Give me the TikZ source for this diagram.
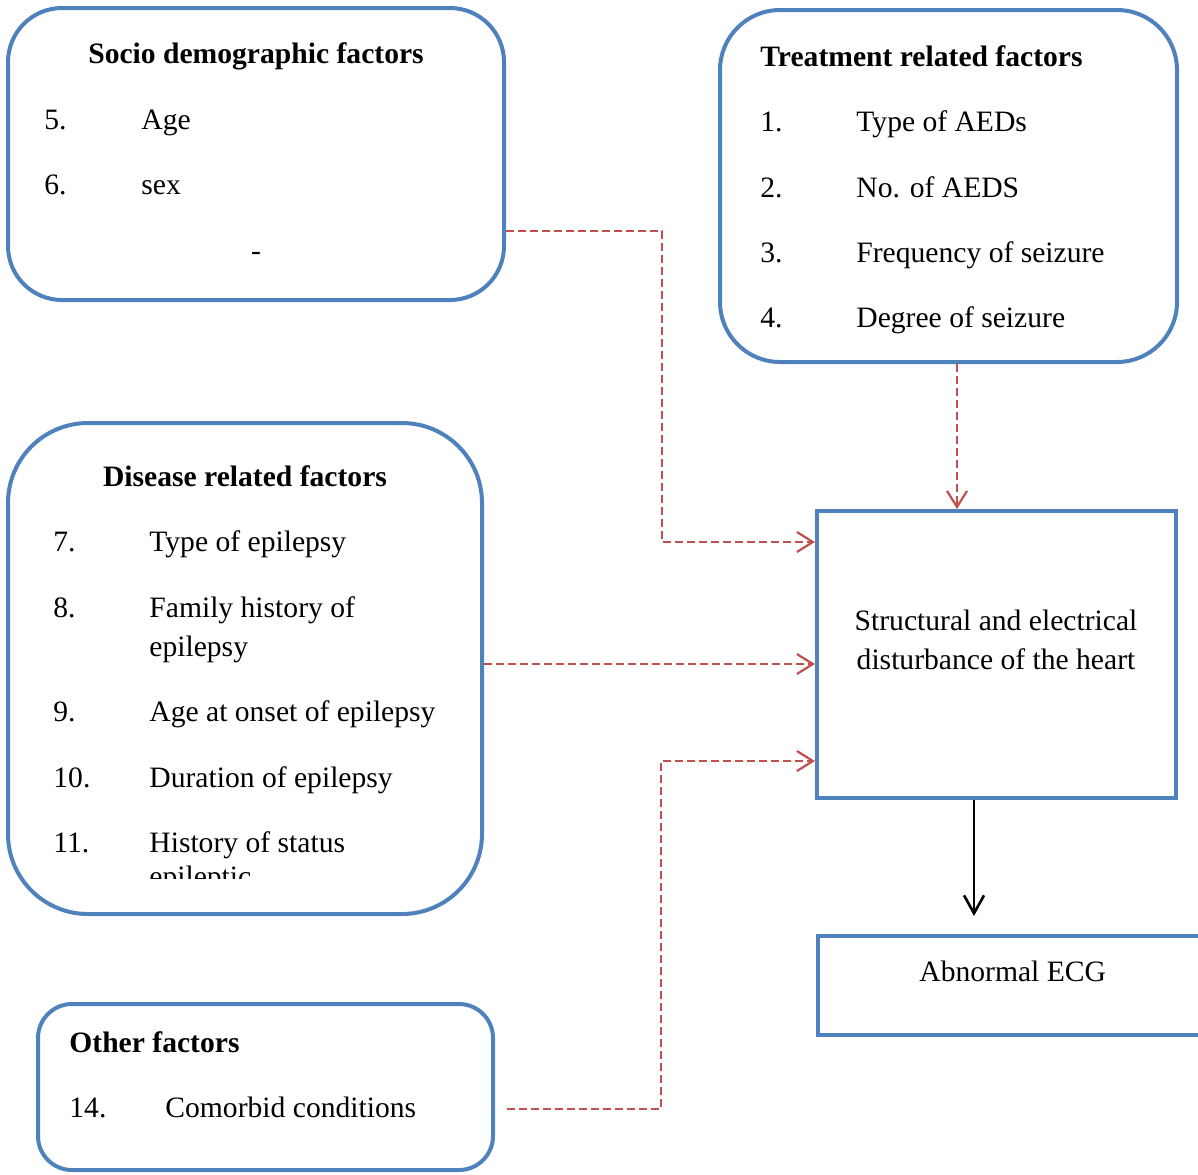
\documentclass[tikz,border=0pt]{standalone}
\usepackage{fontspec}
\setmainfont{Liberation Serif}
\usetikzlibrary{arrows.meta}
\definecolor{boxblue}{RGB}{79,129,189}
\definecolor{dashred}{RGB}{192,80,77}
\begin{document}
\begin{tikzpicture}[x=0.5pt,y=-0.5pt,
  every node/.style={font=\fontsize{14.8}{17}\selectfont},
  rbox/.style={draw=boxblue, line width=2pt, inner sep=0pt},
  txt/.style={anchor=base west, inner sep=0pt},
  ctxt/.style={anchor=base, inner sep=0pt},
  ttl/.style={font=\fontsize{14.8}{17}\selectfont\bfseries},
  dasharrow/.style={draw=dashred, line width=1.2pt, dash pattern=on 4pt off 2pt,
    -{Straight Barb[length=8pt,width=10pt,line width=1.1pt]}},
  solidarrow/.style={draw=black, line width=1.3pt,
    -{Straight Barb[length=9pt,width=10pt,line width=1.3pt]}}]
\useasboundingbox (0,0) rectangle (1198,1174);
\clip (0,0) rectangle (1198,1174);

% boxes
\node[rbox, rounded corners=27pt, minimum width=248pt, minimum height=146pt] (socio) at (256,154) {};
\node[rbox, rounded corners=30pt, minimum width=228.5pt, minimum height=176pt] (treat) at (948.5,186) {};
\node[rbox, rounded corners=40pt, minimum width=237pt, minimum height=245.5pt] (disease) at (245,668.5) {};
\node[rbox, rounded corners=17pt, minimum width=227.5pt, minimum height=83pt] (other) at (265.5,1087) {};
\node[rbox, minimum width=179.5pt, minimum height=143.5pt] (struct) at (996.5,654.5) {};
\node[rbox, minimum width=206pt, minimum height=49.5pt] (ecg) at (1024,985.5) {};

% socio text
\node[ctxt, ttl] (sociot) at (256,63) {Socio demographic factors};
\node[txt] (s5n) at (44,129) {5.};
\node[txt] (s5) at (141,129) {Age};
\node[txt] (s6n) at (44,194) {6.};
\node[txt] (s6) at (141,194) {sex};
\node[ctxt] (sdash) at (256,260) {-};

% treatment text
\node[txt, ttl] (treatt) at (760,66) {Treatment related factors};
\node[txt] (t1n) at (760,131) {1.};
\node[txt] (t1) at (856,131) {Type of AEDs};
\node[txt] (t2n) at (760,197) {2.};
\node[txt] (t2) at (856,197) {No. of AEDS};
\node[txt] (t3n) at (760,262) {3.};
\node[txt] (t3) at (856,262) {Frequency of seizure};
\node[txt] (t4n) at (760,327) {4.};
\node[txt] (t4) at (856,327) {Degree of seizure};

% disease text
\node[ctxt, ttl] (diseaset) at (245,486) {Disease related factors};
\node[txt] (d7n) at (53,551) {7.};
\node[txt] (d7) at (149,551) {Type of epilepsy};
\node[txt] (d8n) at (53,617) {8.};
\node[txt] (d8) at (149,617) {Family history of};
\node[txt] (d8b) at (149,656) {epilepsy};
\node[txt] (d9n) at (53,721) {9.};
\node[txt] (d9) at (149,721) {Age at onset of epilepsy};
\node[txt] (d10n) at (53,787) {10.};
\node[txt] (d10) at (149,787) {Duration of epilepsy};
\node[txt] (d11n) at (53,852) {11.};
\node[txt] (d11) at (149,852) {History of status};
\begin{scope}
  \clip (100,860) rectangle (400,878);
  \node[txt] (d11b) at (149,886) {epileptic};
\end{scope}

% other text
\node[txt, ttl] (othert) at (69,1052) {Other factors};
\node[txt] (o14n) at (69,1117) {14.};
\node[txt] (o14) at (165,1117) {Comorbid conditions};

% central texts
\node[ctxt] (structa) at (996,630) {Structural and electrical};
\node[ctxt] (structb) at (996,669) {disturbance of the heart};
\node[txt] (ecgt) at (919,981) {Abnormal ECG};

% connectors
\draw[dasharrow] (socio.east |- 0,231) -- (662,231) |- (struct.west |- 0,542);
\draw[dasharrow] (treat.south -| 957,0) -- (struct.north -| 957,0);
\draw[dasharrow] (disease.east |- 0,664) -- (struct.west |- 0,664);
\draw[dasharrow] (other.east |- 0,1109) ++(12,0) -- (661,1109) |- (struct.west |- 0,761);
\draw[solidarrow, shorten >=9pt] (struct.south -| 974,0) -- (ecg.north -| 974,0);
\end{tikzpicture}
\end{document}
